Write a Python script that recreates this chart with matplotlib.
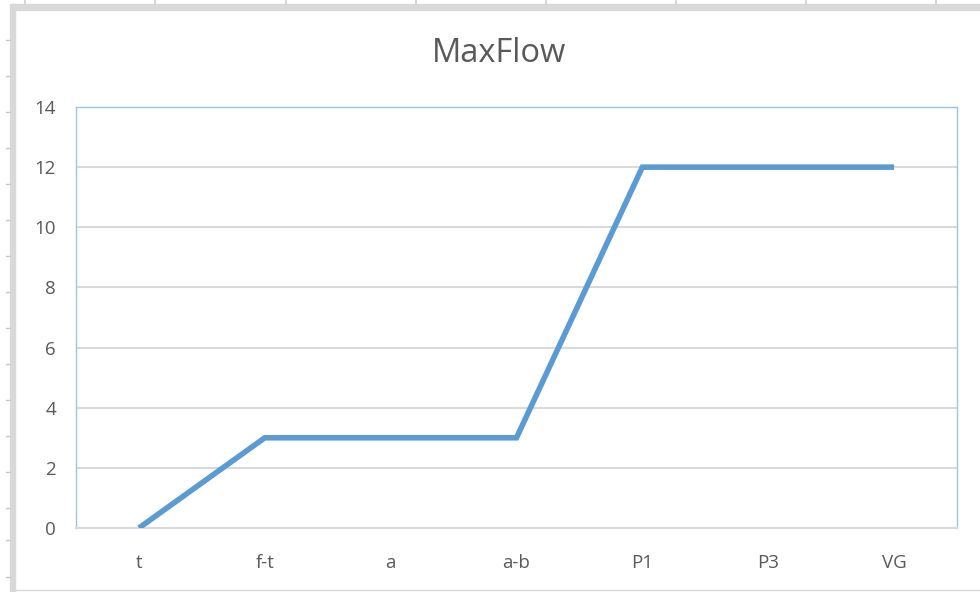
import matplotlib.pyplot as plt
from matplotlib.patches import Rectangle
from matplotlib.lines import Line2D

# data
categories = ["t", "f-t", "a", "a-b", "P1", "P3", "VG"]
max_flow = [0, 3, 3, 3, 12, 12, 12]
y_ticks = [0, 2, 4, 6, 8, 10, 12, 14]

text_color = "#595959"
grid_color = "#D9D9D9"
line_color = "#5B9BD5"
plt.rcParams["font.family"] = ["Open Sans", "DejaVu Sans"]

W, H = 980, 592
fig = plt.figure(figsize=(W / 100, H / 100), dpi=100)

# spreadsheet background around the chart (pixel coords -> figure fraction)
def px_rect(x0, y0, x1, y1, color):
    fig.patches.append(Rectangle((x0 / W, 1 - y1 / H), (x1 - x0) / W, (y1 - y0) / H,
                                 transform=fig.transFigure, color=color, zorder=0))

def px_line(x0, y0, x1, y1, color, lw=1.0):
    fig.lines.append(Line2D([x0 / W, x1 / W], [1 - y0 / H, 1 - y1 / H],
                            transform=fig.transFigure, color=color, lw=lw, zorder=1))

px_rect(12, 4, W, 10, "#D9D9D9")
px_rect(10, 4, 15, H, "#D9D9D9")
for cx in [25, 155, 286, 416, 546, 676, 806, 936]:
    px_line(cx, 0, cx, 4, "#D0D0D0", 1.2)
for ry in [40, 76, 112, 148, 184, 220, 256, 292, 328, 364, 400, 436, 472, 508, 540, 577]:
    px_line(6, ry, 10, ry, "#C8C8C8", 1.0)
px_line(15, 590, W, 590, "#D9D9D9", 1.0)

ax = fig.add_axes([76 / W, 1 - 528 / H, (957 - 76) / W, (528 - 107) / H])
ax.plot(range(len(categories)), max_flow, color=line_color, lw=4.0,
        solid_capstyle="butt", solid_joinstyle="miter", zorder=3)

ax.set_xlim(-0.5, len(categories) - 0.5)
ax.set_ylim(0, 14)
ax.set_xticks(range(len(categories)))
ax.set_xticklabels(categories)
ax.set_yticks(y_ticks)
ax.tick_params(axis="both", length=0, labelsize=13.5, labelcolor=text_color)
ax.tick_params(axis="y", pad=14.4)
ax.tick_params(axis="x", pad=18.5)
ax.grid(axis="y", color=grid_color, lw=1.5)
ax.set_axisbelow(True)

for side in ["left", "top", "right"]:
    ax.spines[side].set_color("#9DC3E6")
    ax.spines[side].set_linewidth(1.0)
ax.spines["bottom"].set_color(grid_color)
ax.spines["bottom"].set_linewidth(1.5)

fig.text(499 / W, 1 - 62 / H, "MaxFlow", ha="center", va="baseline",
         fontsize=23.5, color=text_color)

plt.savefig("out.png", dpi=100)
